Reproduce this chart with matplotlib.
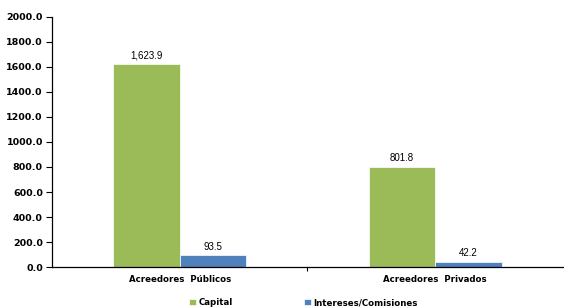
import numpy as np
import matplotlib.pyplot as plt
from matplotlib import font_manager

plt.rcParams['font.family'] = ['Liberation Sans', 'DejaVu Sans']


def BOLD(size):
    # bold Liberation Sans comes out condensed here; DejaVu bold is closer to the Arial Bold look
    return font_manager.FontProperties(family="DejaVu Sans", weight="bold", size=size)


categories = ["Acreedores  Públicos", "Acreedores  Privados"]
capital = [1623.9, 801.8]
intereses = [93.5, 42.2]
capital_labels = ["1,623.9", "801.8"]
intereses_labels = ["93.5", "42.2"]

GREEN = "#9BBB59"
BLUE = "#4F81BD"

fig = plt.figure(figsize=(5.64, 3.08), dpi=100)
ax = fig.add_axes([0.092, 0.133, 0.906, 0.812])

x = np.arange(len(categories))
w = 0.26
b1 = ax.bar(x - w / 2, capital, w, color=GREEN, edgecolor="white", linewidth=0.5, label="Capital")
b2 = ax.bar(x + w / 2, intereses, w, color=BLUE, edgecolor="white", linewidth=0.5, label="Intereses/Comisiones")

for bars, labs in ((b1, capital_labels), (b2, intereses_labels)):
    for r, lab in zip(bars, labs):
        ax.text(r.get_x() + r.get_width() / 2, r.get_height() + 30, lab,
                ha="center", va="bottom", fontsize=7)

ax.set_xlim(-0.5, 1.5)
ax.set_ylim(0, 2000)
yt = np.arange(0, 2001, 200)
ax.set_yticks(yt)
ax.set_yticklabels([f"{v:.1f}" for v in yt], fontproperties=BOLD(6.8))
ax.set_xticks(x)
ax.set_xticklabels(categories, fontproperties=BOLD(6.2))
ax.tick_params(axis="x", length=0, pad=6)
ax.set_xticks([0.5], minor=True)
ax.tick_params(axis="x", which="minor", length=3, width=0.8)
ax.tick_params(axis="y", length=4, width=0.8, pad=2.5)

for s in ("top", "right"):
    ax.spines[s].set_visible(False)
ax.spines["left"].set_linewidth(0.9)
ax.spines["bottom"].set_linewidth(0.9)

fig.legend(handles=[b1, b2], loc="lower center", bbox_to_anchor=(0.538, -0.022), ncol=2,
           frameon=False, prop=BOLD(6.2), handlelength=0.75,
           handleheight=0.75, handletextpad=0.3, columnspacing=8.3)

fig.savefig("out.png", dpi=100)
